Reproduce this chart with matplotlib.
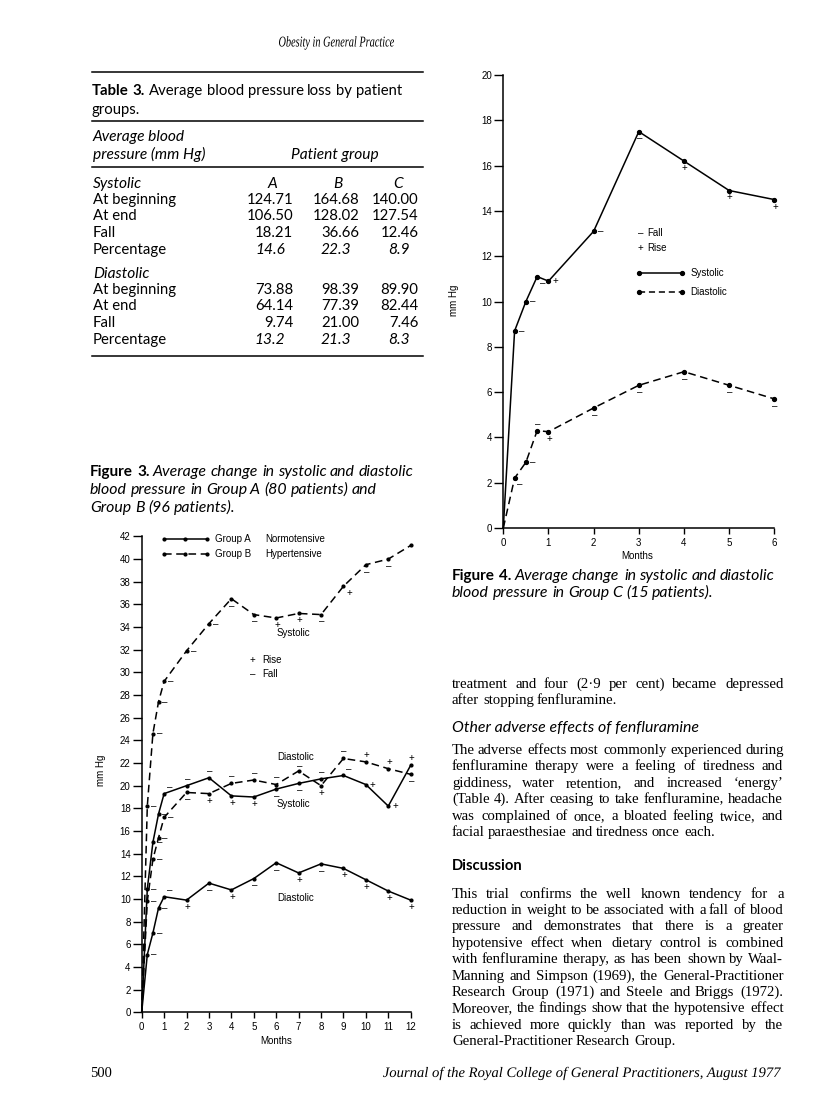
import matplotlib
matplotlib.use("Agg")
import matplotlib.pyplot as plt
from matplotlib.lines import Line2D
from matplotlib.patches import PathPatch
from matplotlib.text import TextPath
from matplotlib.font_manager import FontProperties
from matplotlib.transforms import Affine2D

plt.rcParams['font.family'] = ['Liberation Sans', 'DejaVu Sans']

# ---------------- Table 3 ----------------
row_names = ['At beginning', 'At end', 'Fall', 'Percentage']
sys_a = [124.71, 106.50, 18.21, 14.6]
sys_b = [164.68, 128.02, 36.66, 22.3]
sys_c = [140.00, 127.54, 12.46, 8.9]
dia_a = [73.88, 64.14, 9.74, 13.2]
dia_b = [98.39, 77.39, 21.00, 21.3]
dia_c = [89.90, 82.44, 7.46, 8.3]

# ---------------- Figure 3 (groups A and B) ----------------
months3 = [0, 0.25, 0.5, 0.75, 1, 2, 3, 4, 5, 6, 7, 8, 9, 10, 11, 12]
a_sys = [0, 10.9, 15.0, 17.5, 19.3, 20.0, 20.7, 19.1, 19.0, 19.7, 20.2, 20.6, 20.9, 20.1, 18.2, 21.8]
a_sys_mark = ['', '–', '–', '–', '–', '–', '–', '+', '+', '–', '–', '–', '–', '+', '+', '+']
a_sys_side = ['', 'r', 'r', 'r', 'ar', 'a', 'a', 'b', 'b', 'b', 'b', 'a', 'ar', 'r', 'r', 'a']
a_dia = [0, 5.1, 7.0, 9.2, 10.2, 9.9, 11.4, 10.8, 11.8, 13.2, 12.3, 13.1, 12.7, 11.7, 10.7, 9.9]
a_dia_mark = ['', '–', '–', '–', '–', '+', '–', '+', '–', '–', '+', '–', '+', '+', '+', '+']
a_dia_side = ['', 'r', 'r', 'r', 'ar', 'b', 'b', 'b', 'b', 'b', 'b', 'b', 'b', 'b', 'b', 'b']
b_sys = [0, 18.2, 24.6, 27.4, 29.2, 31.9, 34.3, 36.5, 35.1, 34.8, 35.2, 35.1, 37.6, 39.5, 40.0, 41.2]
b_sys_mark = ['', '–', '–', '–', '–', '–', '–', '–', '–', '+', '+', '–', '+', '–', '–', '']
b_sys_side = ['', 'r', 'r', 'r', 'r', 'r', 'r', 'b', 'b', 'b', 'b', 'b', 'br', 'b', 'b', '']
b_dia = [0, 9.8, 13.5, 15.4, 17.2, 19.4, 19.3, 20.2, 20.5, 20.1, 21.3, 20.0, 22.4, 22.1, 21.5, 21.0]
b_dia_mark = ['', '–', '–', '–', '–', '–', '+', '–', '–', '–', '–', '+', '–', '+', '+', '–']
b_dia_side = ['', 'r', 'r', 'r', 'r', 'b', 'b', 'a', 'a', 'a', 'as', 'b', 'a', 'a', 'a', 'b']

# ---------------- Figure 4 (group C) ----------------
months4 = [0, 0.25, 0.5, 0.75, 1, 2, 3, 4, 5, 6]
c_sys = [0, 8.7, 10.0, 11.1, 10.9, 13.1, 17.5, 16.2, 14.9, 14.5]
c_sys_mark = ['', '–', '–', '–', '+', '–', '–', '+', '+', '+']
c_sys_side = ['', 'r', 'r', 'br', 'r', 'r', 'b', 'b', 'b', 'b']
c_dia = [0, 2.2, 2.9, 4.3, 4.25, 5.3, 6.3, 6.9, 6.3, 5.7]
c_dia_mark = ['', '–', '–', '–', '+', '–', '–', '–', '–', '–']
c_dia_side = ['', 'br', 'r', 'a', 'b', 'b', 'b', 'b', 'b', 'b']

# ---------------- running text ----------------
para1 = ["treatment and four (2·9 per cent) became depressed",
         "after stopping fenfluramine."]
para2 = ["The adverse effects most commonly experienced during",
         "fenfluramine therapy were a feeling of tiredness and",
         "giddiness, water retention, and increased ‘energy’",
         "(Table 4). After ceasing to take fenfluramine, headache",
         "was complained of once, a bloated feeling twice, and",
         "facial paraesthesiae and tiredness once each."]
para3 = ["This trial confirms the well known tendency for a",
         "reduction in weight to be associated with a fall of blood",
         "pressure and demonstrates that there is a greater",
         "hypotensive effect when dietary control is combined",
         "with fenfluramine therapy, as has been shown by Waal-",
         "Manning and Simpson (1969), the General-Practitioner",
         "Research Group (1971) and Steele and Briggs (1972).",
         "Moreover, the findings show that the hypotensive effect",
         "is achieved more quickly than was reported by the",
         "General-Practitioner Research Group."]

W, H = 816, 1109
fig = plt.figure(figsize=(W / 100, H / 100), dpi=100)
# page pixel coordinates, y going down
px = Affine2D().scale(1 / W, -1 / H).translate(0, 1) + fig.transFigure
renderer = fig.canvas.get_renderer()

SANS = dict(family='Lato', size=10.7)
SANS_I = dict(family='Lato', size=11.2, style='italic')
SANS_B = dict(family='Lato', size=10.8, weight='bold')
CAP_I = dict(family='Lato', size=11.4, style='italic')
CAP_B = dict(family='Lato', size=11.0, weight='bold')
SERIF = dict(family='Liberation Serif', size=10.6)
FIGF = dict(family='Liberation Sans', size=7)


def txt(x, y, s, **kw):
    kw.setdefault('va', 'baseline')
    return fig.text(x, y, s, transform=px, **kw)


def space_w(st):
    a = txt(0, 0, 'n n', **st)
    b = txt(0, 0, 'nn', **st)
    w = a.get_window_extent(renderer).width - b.get_window_extent(renderer).width
    a.remove()
    b.remove()
    return w


def words_line(x0, base, parts, right=None):
    items = [(w, st) for s, st in parts for w in s.split()]
    objs = [txt(0, 0, w, **st) for w, st in items]
    widths = [o.get_window_extent(renderer).width for o in objs]
    if right is not None and len(objs) > 1:
        gap = (right - x0 - sum(widths)) / (len(objs) - 1)
    else:
        gap = space_w(items[-1][1])
    x = x0
    for o, wd in zip(objs, widths):
        o.set_position((round(x), round(base)))
        x += wd + gap


def squeezed(s, x0, x1, base, size, prop):
    tp = TextPath((0, 0), s, size=size, prop=prop)
    ext = tp.get_extents()
    sx = (x1 - x0) / ext.width
    tr = Affine2D().translate(-ext.x0, 0).scale(sx, -1).translate(x0, base) + px
    fig.add_artist(PathPatch(tp, transform=tr, color='black', lw=0))


def hline(x0, x1, y, lw=1.0):
    fig.add_artist(Line2D([x0, x1], [y, y], transform=px, color='black', lw=lw))


# ---------- header / footer ----------
squeezed("Obesity in General Practice", 279, 394, 46.5, 15,
         FontProperties(family='Liberation Serif', style='italic'))
txt(90, 1077, "500", family='Liberation Serif', size=10.5)
squeezed("Journal of the Royal College of General Practitioners, August 1977",
         383, 781, 1077, 14.5, FontProperties(family='Liberation Serif', style='italic'))

# ---------- table ----------
hline(91.7, 423, 71.7, 1.1)
words_line(92, 95, [("Table 3.", SANS_B), ("Average blood pressure loss by patient", SANS)])
words_line(92, 113.5, [("groups.", SANS)])
hline(91.7, 423, 121, 1.1)
txt(93, 141.5, "Average blood", **SANS_I)
txt(93, 158.5, "pressure (mm Hg)", **SANS_I)
txt(335, 158.5, "Patient group", ha='center', **SANS_I)
hline(91.7, 423, 167.3, 1.1)

col_r = [293.3, 359.3, 418.3]
col_c = [272.7, 338.3, 398.3]
for blk_y, title, cols in [(187.8, "Systolic", [sys_a, sys_b, sys_c]),
                           (277.8, "Diastolic", [dia_a, dia_b, dia_c])]:
    txt(93, blk_y, title, **SANS_I)
    if title == "Systolic":
        for cx, lab in zip(col_c, "ABC"):
            txt(cx, blk_y, lab, ha='center', **SANS_I)
    row_y = [blk_y + 16.3, blk_y + 32.6, blk_y + 49.3, blk_y + 66.0]
    for i, name in enumerate(row_names):
        txt(93, row_y[i], name, **SANS)
        for cr, vals in zip(col_r, cols):
            if i < 3:
                txt(cr, row_y[i], f"{vals[i]:.2f}", ha='right', **SANS)
            else:
                txt(cr - 8, row_y[i], f"{vals[i]:.1f}", ha='right', **SANS_I)
hline(91.7, 423, 355.7, 1.1)

# ---------- captions ----------
words_line(90, 476.5, [("Figure 3.", CAP_B), ("Average change in systolic and diastolic", CAP_I)])
words_line(90, 494.5, [("blood pressure in Group A (80 patients) and", CAP_I)])
words_line(90, 512.5, [("Group B (96 patients).", CAP_I)])
words_line(452, 579.5, [("Figure 4.", CAP_B), ("Average change in systolic and diastolic", CAP_I)])
words_line(452, 597, [("blood pressure in Group C (15 patients).", CAP_I)])

# ---------- running text ----------
LEFT, RIGHT = 451.7, 783.3


def paragraph(lines, first_base, step=16.6):
    for k, line in enumerate(lines):
        last = k == len(lines) - 1
        words_line(LEFT, first_base + k * step, [(line, SERIF)], None if last else RIGHT)


paragraph(para1, 687.5)
txt(451.7, 731.5, "Other adverse effects of fenfluramine", family='Lato', size=11.4, style='italic')
paragraph(para2, 753.5)
txt(451.7, 870, "Discussion", family='Lato', size=10.6, weight='bold')
paragraph(para3, 897.5, step=16.4)

# ---------- chart panels ----------
OFF = {'r': (4.8, 0), 'b': (0.5, -5), 'a': (0.5, 5), 'as': (0.5, 3.2),
       'br': (4, -4.5), 'ar': (4, 4.5)}


def panel(l, t, r, b, xmax, ymax, ystep):
    ax = fig.add_axes([l / W, 1 - b / H, (r - l) / W, (b - t) / H])
    ax.set_xlim(0, xmax)
    ax.set_ylim(0, ymax)
    for s in ['top', 'right']:
        ax.spines[s].set_visible(False)
    for s in ['left', 'bottom']:
        ax.spines[s].set_linewidth(1.1)
    ax.set_xticks(range(xmax + 1))
    ax.set_yticks(range(0, ymax + 1, ystep))
    ax.tick_params(axis='y', length=6.5, width=1.0, pad=1.5, labelsize=7)
    ax.tick_params(axis='x', length=4.3, width=1.0, pad=3, labelsize=7)
    ax.patch.set_alpha(0)
    return ax


def series(ax, x, y, dashed, marks, sides, ms):
    ln, = ax.plot(x, y, color='black', lw=1.1, marker='o', ms=ms,
                  markevery=list(range(1, len(x))), clip_on=False)
    if dashed:
        ln.set_dashes((5, 3))
    for xi, yi, m, sd in zip(x, y, marks, sides):
        if m:
            ax.annotate(m, (xi, yi), xytext=OFF[sd], textcoords='offset points',
                        ha='center', va='center', fontsize=7)


ax3 = panel(141.7, 536.4, 410.7, 1012.3, 12, 42, 2)
series(ax3, months3, a_sys, False, a_sys_mark, a_sys_side, 2.0)
series(ax3, months3, a_dia, False, a_dia_mark, a_dia_side, 2.0)
series(ax3, months3, b_sys, True, b_sys_mark, b_sys_side, 2.0)
series(ax3, months3, b_dia, True, b_dia_mark, b_dia_side, 2.0)

ax4 = panel(503.3, 75, 774.3, 528, 6, 20, 2)
series(ax4, months4, c_sys, False, c_sys_mark, c_sys_side, 2.8)
series(ax4, months4, c_dia, True, c_dia_mark, c_dia_side, 2.8)

# axis titles
txt(101, 770, "mm Hg", rotation=90, ha='center', va='center', **FIGF)
txt(276, 1041, "Months", ha='center', va='center', **FIGF)
txt(454, 300, "mm Hg", rotation=90, ha='center', va='center', **FIGF)
txt(637, 556, "Months", ha='center', va='center', **FIGF)

# figure 3 key and labels
key_x = [163.5, 185, 206.7]
fig.add_artist(Line2D(key_x, [539] * 3, transform=px, color='black', lw=1.1,
                      marker='o', ms=2.0))
fig.add_artist(Line2D(key_x, [554] * 3, transform=px, color='black', lw=1.1,
                      marker='o', ms=2.0, dashes=(5, 3)))
txt(215, 539, "Group A", va='center', **FIGF)
txt(265.7, 539, "Normotensive", va='center', **FIGF)
txt(215, 554, "Group B", va='center', **FIGF)
txt(265.7, 554, "Hypertensive", va='center', **FIGF)
txt(293, 633.5, "Systolic", ha='center', va='center', **FIGF)
txt(252.5, 660, "+", ha='center', va='center', **FIGF)
txt(262.3, 660, "Rise", va='center', **FIGF)
txt(252.5, 674, "–", ha='center', va='center', **FIGF)
txt(262.3, 674, "Fall", va='center', **FIGF)
txt(296, 757.5, "Diastolic", ha='center', va='center', **FIGF)
txt(293, 804, "Systolic", ha='center', va='center', **FIGF)
txt(296, 898.3, "Diastolic", ha='center', va='center', **FIGF)

# figure 4 key
txt(640.5, 233.3, "–", ha='center', va='center', **FIGF)
txt(647, 233.3, "Fall", va='center', **FIGF)
txt(640.5, 248.3, "+", ha='center', va='center', **FIGF)
txt(647, 248.3, "Rise", va='center', **FIGF)
fig.add_artist(Line2D([639, 682], [272.7, 272.7], transform=px, color='black', lw=1.1,
                      marker='o', ms=2.8))
fig.add_artist(Line2D([639, 682], [291.7, 291.7], transform=px, color='black', lw=1.1,
                      marker='o', ms=2.8, dashes=(4, 2.5)))
txt(690.7, 272.7, "Systolic", va='center', **FIGF)
txt(690.7, 291.7, "Diastolic", va='center', **FIGF)

fig.savefig("out.png", dpi=100)
